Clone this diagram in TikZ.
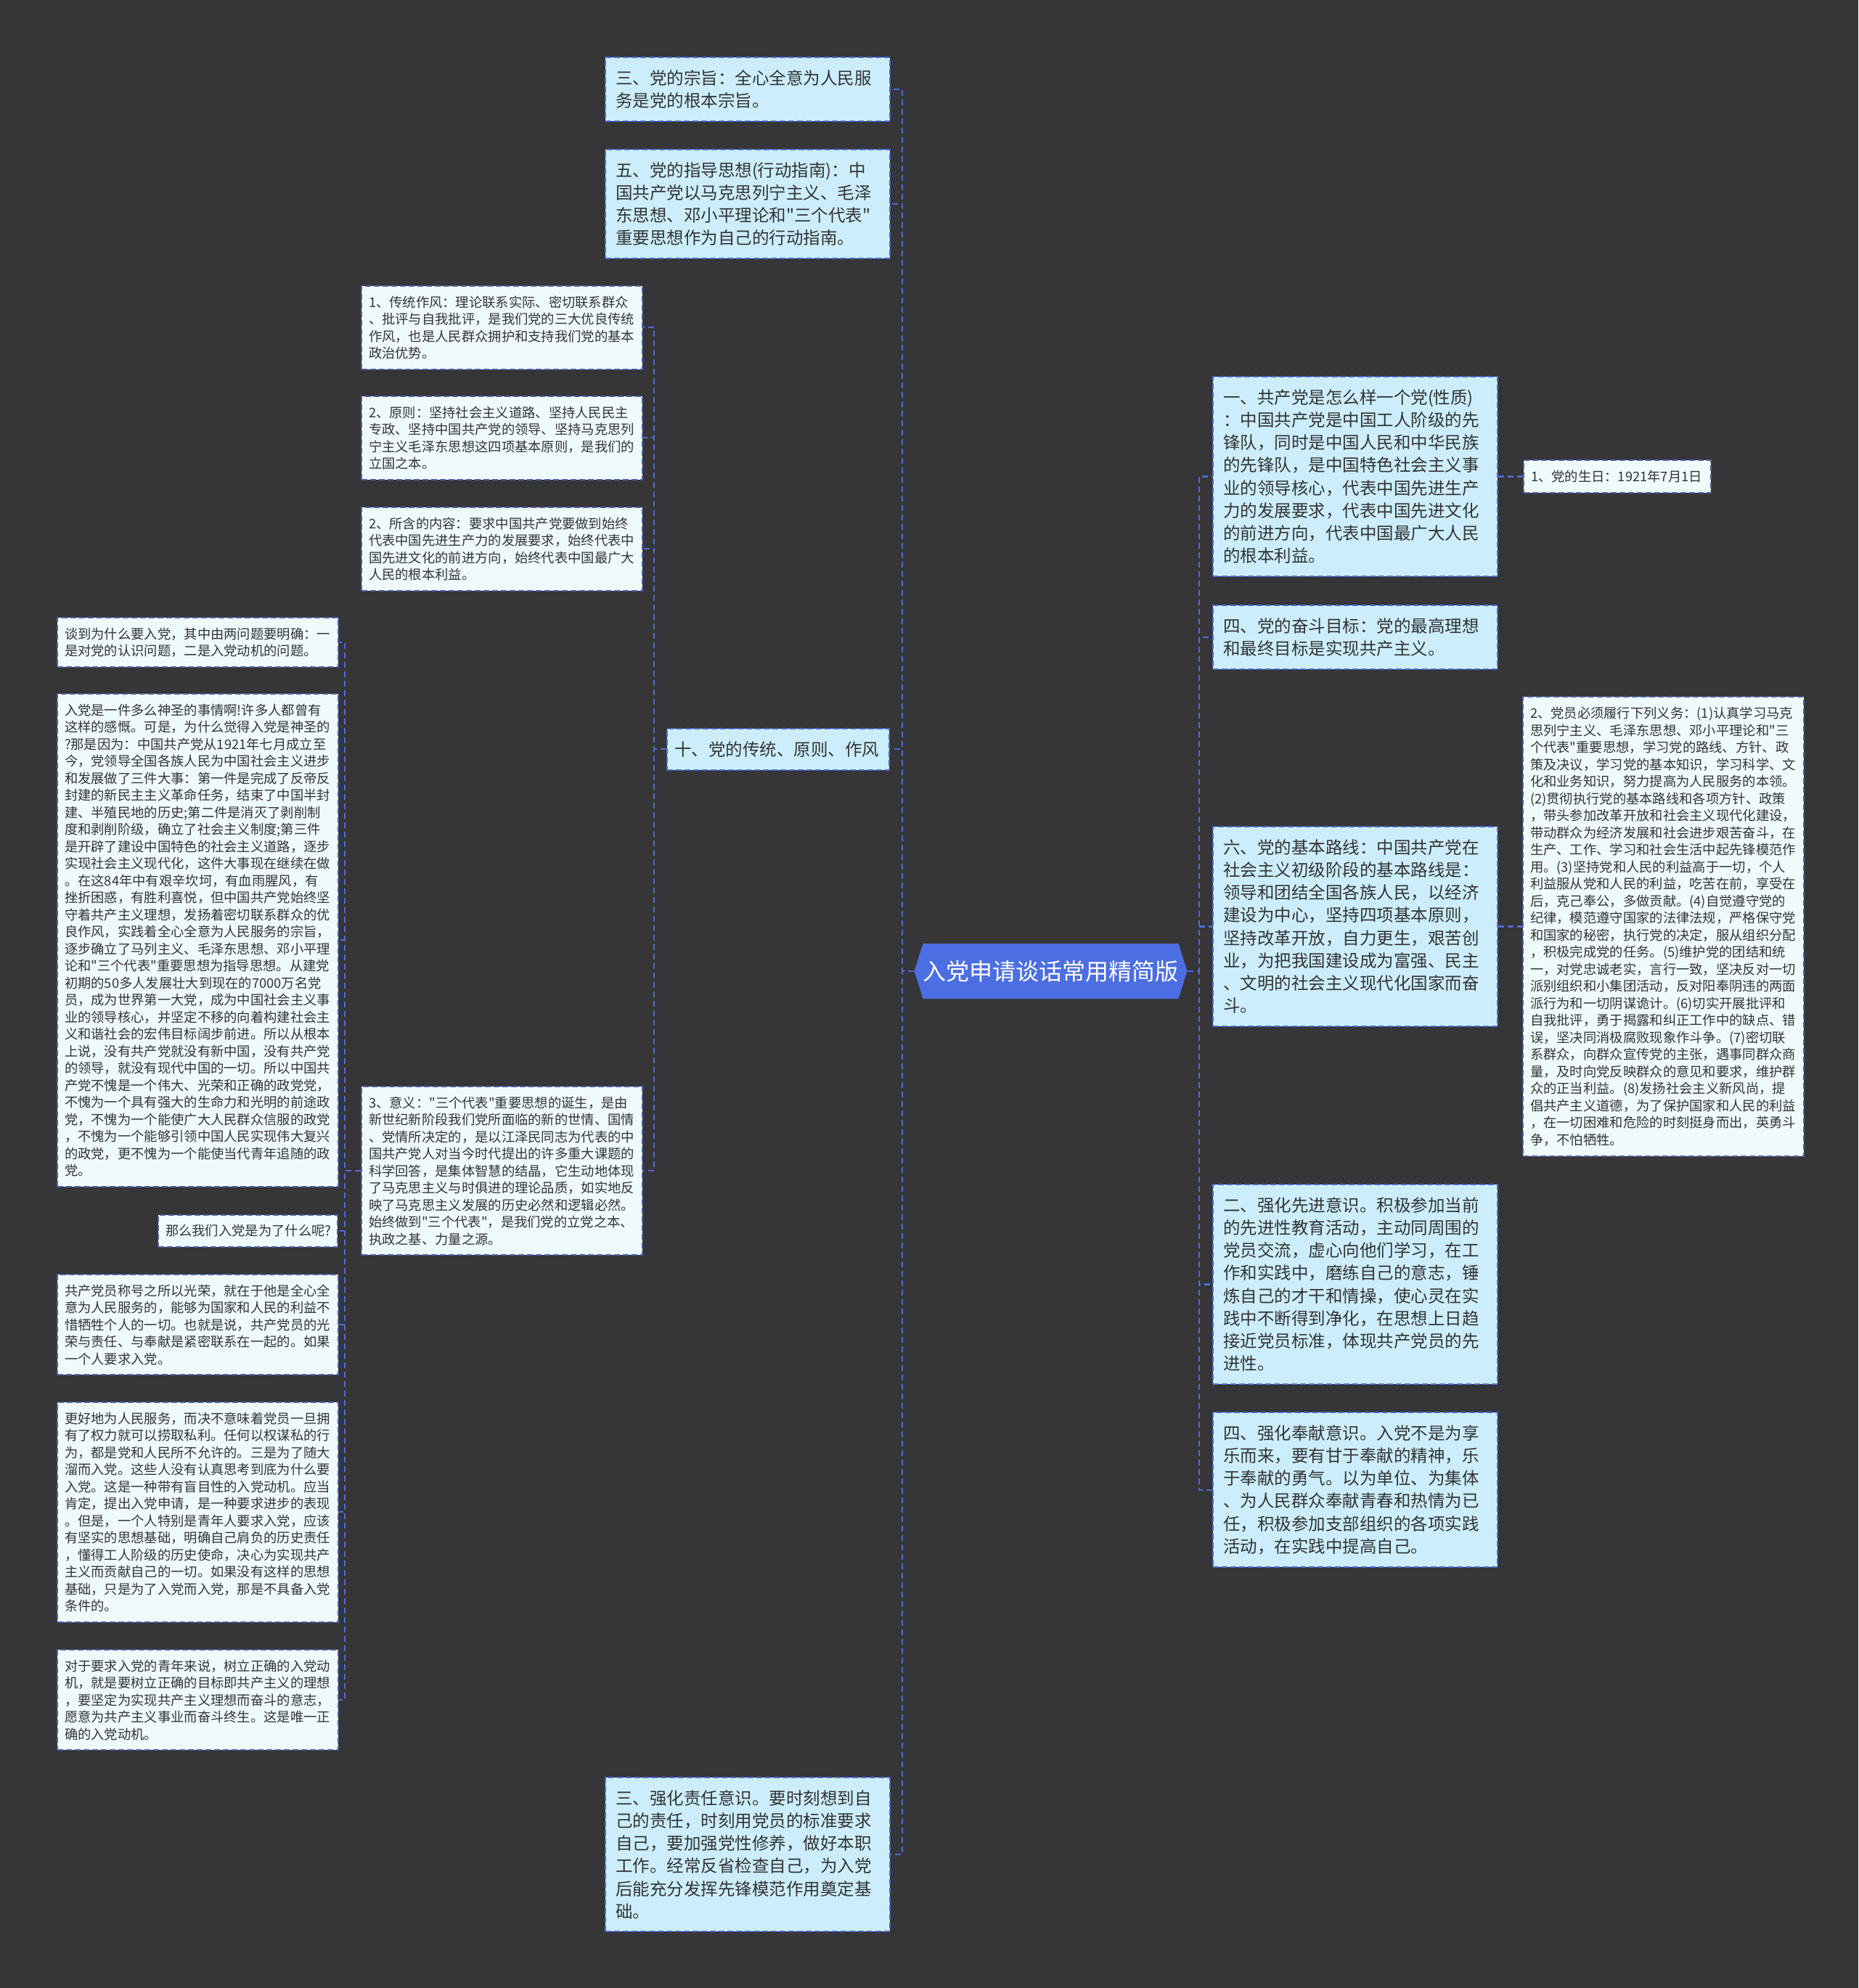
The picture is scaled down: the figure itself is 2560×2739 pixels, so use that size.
\documentclass[tikz,border=0pt]{standalone}
\usepackage{fontspec}
\setmainfont{Noto Sans CJK SC}[Ligatures=TeXOff]
\usetikzlibrary{shapes.symbols,positioning}
\definecolor{bgdark}{HTML}{363537}
\definecolor{linkblue}{HTML}{4C6CD9}
\definecolor{bigfill}{HTML}{CCEEFC}
\definecolor{leaffill}{HTML}{EFFAFD}
\definecolor{leafline}{HTML}{4F5FA8}
\definecolor{txt}{HTML}{333333}
\definecolor{rootblue}{HTML}{4B6EE3}

\begin{document}
\begin{tikzpicture}[
    x=0.5pt, y=-0.5pt,
    root/.style={signal, signal to=west and east, signal pointer angle=145, fill=rootblue, text=white,
        font=\fontsize{16}{18}\selectfont, minimum height=38pt, inner xsep=0pt},
    big/.style={rectangle, draw=linkblue, dash pattern=on 4pt off 2pt, line width=1pt, fill=bigfill, text=txt,
        font=\fontsize{11.75}{15.6}\selectfont, align=left, text width=182pt, inner xsep=7pt, inner ysep=8.7pt, anchor=north west},
    leaf/.style={rectangle, draw=leafline, dash pattern=on 4pt off 2pt, line width=1pt, fill=leaffill, text=txt,
        font=\fontsize{9.15}{11.75}\selectfont, align=left, text width=183.5pt, inner xsep=5pt, inner ysep=6.8pt, anchor=north west},
    link/.style={draw=linkblue, line width=1.1pt, dash pattern=on 4pt off 2.5pt}
]
\useasboundingbox (0,0) rectangle (2560,2739);
\fill[bgdark] (0,0) rectangle (2560,2739);

% Root
\node[root] (root) at (1447.5,1338) {入党申请谈话常用精简版};

% Left branches
\node[big] (c3) at (833,78) {三、党的宗旨：全心全意为人民服\\务是党的根本宗旨。};
\node[big] (c5) at (833,205) {五、党的指导思想(行动指南)：中\\国共产党以马克思列宁主义、毛泽\\东思想、邓小平理论和"三个代表"\\重要思想作为自己的行动指南。};
\node[big, text width=143pt, inner xsep=5pt] (c10) at (918,1003) {十、党的传统、原则、作风};
\node[big] (c3b) at (833,2448) {三、强化责任意识。要时刻想到自\\己的责任，时刻用党员的标准要求\\自己，要加强党性修养，做好本职\\工作。经常反省检查自己，为入党\\后能充分发挥先锋模范作用奠定基\\础。};

% Right branches
\node[big] (c1) at (1670,518) {一、共产党是怎么样一个党(性质)\\：中国共产党是中国工人阶级的先\\锋队，同时是中国人民和中华民族\\的先锋队，是中国特色社会主义事\\业的领导核心，代表中国先进生产\\力的发展要求，代表中国先进文化\\的前进方向，代表中国最广大人民\\的根本利益。};
\node[big] (c4) at (1670,833) {四、党的奋斗目标：党的最高理想\\和最终目标是实现共产主义。};
\node[big] (c6) at (1670,1138) {六、党的基本路线：中国共产党在\\社会主义初级阶段的基本路线是：\\领导和团结全国各族人民，以经济\\建设为中心，坚持四项基本原则，\\坚持改革开放，自力更生，艰苦创\\业，为把我国建设成为富强、民主\\、文明的社会主义现代化国家而奋\\斗。};
\node[big] (c2b) at (1670,1631) {二、强化先进意识。积极参加当前\\的先进性教育活动，主动同周围的\\党员交流，虚心向他们学习，在工\\作和实践中，磨练自己的意志，锤\\炼自己的才干和情操，使心灵在实\\践中不断得到净化，在思想上日趋\\接近党员标准，体现共产党员的先\\进性。};
\node[big] (c4b) at (1670,1945) {四、强化奉献意识。入党不是为享\\乐而来，要有甘于奉献的精神，乐\\于奉献的勇气。以为单位、为集体\\、为人民群众奉献青春和热情为已\\任，积极参加支部组织的各项实践\\活动，在实践中提高自己。};

% Leaves of c1 and c6
\node[leaf, text width=119pt, right=17pt of c1] (b1) {1、党的生日：1921年7月1日};
\node[leaf, right=16.5pt of c6] (d2) {2、党员必须履行下列义务：(1)认真学习马克\\思列宁主义、毛泽东思想、邓小平理论和"三\\个代表"重要思想，学习党的路线、方针、政\\策及决议，学习党的基本知识，学习科学、文\\化和业务知识，努力提高为人民服务的本领。\\(2)贯彻执行党的基本路线和各项方针、政策\\，带头参加改革开放和社会主义现代化建设，\\带动群众为经济发展和社会进步艰苦奋斗，在\\生产、工作、学习和社会生活中起先锋模范作\\用。(3)坚持党和人民的利益高于一切，个人\\利益服从党和人民的利益，吃苦在前，享受在\\后，克己奉公，多做贡献。(4)自觉遵守党的\\纪律，模范遵守国家的法律法规，严格保守党\\和国家的秘密，执行党的决定，服从组织分配\\，积极完成党的任务。(5)维护党的团结和统\\一，对党忠诚老实，言行一致，坚决反对一切\\派别组织和小集团活动，反对阳奉阴违的两面\\派行为和一切阴谋诡计。(6)切实开展批评和\\自我批评，勇于揭露和纠正工作中的缺点、错\\误，坚决同消极腐败现象作斗争。(7)密切联\\系群众，向群众宣传党的主张，遇事同群众商\\量，及时向党反映群众的意见和要求，维护群\\众的正当利益。(8)发扬社会主义新风尚，提\\倡共产主义道德，为了保护国家和人民的利益\\，在一切困难和危险的时刻挺身而出，英勇斗\\争，不怕牺牲。};

% Leaves of c10
\node[leaf] (t1) at (497,393) {1、传统作风：理论联系实际、密切联系群众\\、批评与自我批评，是我们党的三大优良传统\\作风，也是人民群众拥护和支持我们党的基本\\政治优势。};
\node[leaf] (t2) at (497,545) {2、原则：坚持社会主义道路、坚持人民民主\\专政、坚持中国共产党的领导、坚持马克思列\\宁主义毛泽东思想这四项基本原则，是我们的\\立国之本。};
\node[leaf] (t3) at (497,698) {2、所含的内容：要求中国共产党要做到始终\\代表中国先进生产力的发展要求，始终代表中\\国先进文化的前进方向，始终代表中国最广大\\人民的根本利益。};
\node[leaf] (t4) at (497,1496) {3、意义："三个代表"重要思想的诞生，是由\\新世纪新阶段我们党所面临的新的世情、国情\\、党情所决定的，是以江泽民同志为代表的中\\国共产党人对当今时代提出的许多重大课题的\\科学回答，是集体智慧的结晶，它生动地体现\\了马克思主义与时俱进的理论品质，如实地反\\映了马克思主义发展的历史必然和逻辑必然。\\始终做到"三个代表"，是我们党的立党之本、\\执政之基、力量之源。};

% Leaves of t4
\node[leaf] (w1) at (78,850) {谈到为什么要入党，其中由两问题要明确：一\\是对党的认识问题，二是入党动机的问题。};
\node[leaf] (w2) at (78,955) {入党是一件多么神圣的事情啊!许多人都曾有\\这样的感慨。可是，为什么觉得入党是神圣的\\?那是因为：中国共产党从1921年七月成立至\\今，党领导全国各族人民为中国社会主义进步\\和发展做了三件大事：第一件是完成了反帝反\\封建的新民主主义革命任务，结束了中国半封\\建、半殖民地的历史;第二件是消灭了剥削制\\度和剥削阶级，确立了社会主义制度;第三件\\是开辟了建设中国特色的社会主义道路，逐步\\实现社会主义现代化，这件大事现在继续在做\\。在这84年中有艰辛坎坷，有血雨腥风，有\\挫折困惑，有胜利喜悦，但中国共产党始终坚\\守着共产主义理想，发扬着密切联系群众的优\\良作风，实践着全心全意为人民服务的宗旨，\\逐步确立了马列主义、毛泽东思想、邓小平理\\论和"三个代表"重要思想为指导思想。从建党\\初期的50多人发展壮大到现在的7000万名党\\员，成为世界第一大党，成为中国社会主义事\\业的领导核心，并坚定不移的向着构建社会主\\义和谐社会的宏伟目标阔步前进。所以从根本\\上说，没有共产党就没有新中国，没有共产党\\的领导，就没有现代中国的一切。所以中国共\\产党不愧是一个伟大、光荣和正确的政党党，\\不愧为一个具有强大的生命力和光明的前途政\\党，不愧为一个能使广大人民群众信服的政党\\，不愧为一个能够引领中国人民实现伟大复兴\\的政党，更不愧为一个能使当代青年追随的政\\党。};
\node[leaf, text width=113.5pt] (w3) at (217,1673) {那么我们入党是为了什么呢?};
\node[leaf] (w4) at (78,1755) {共产党员称号之所以光荣，就在于他是全心全\\意为人民服务的，能够为国家和人民的利益不\\惜牺牲个人的一切。也就是说，共产党员的光\\荣与责任、与奉献是紧密联系在一起的。如果\\一个人要求入党。};
\node[leaf] (w5) at (78,1931) {更好地为人民服务，而决不意味着党员一旦拥\\有了权力就可以捞取私利。任何以权谋私的行\\为，都是党和人民所不允许的。三是为了随大\\溜而入党。这些人没有认真思考到底为什么要\\入党。这是一种带有盲目性的入党动机。应当\\肯定，提出入党申请，是一种要求进步的表现\\。但是，一个人特别是青年人要求入党，应该\\有坚实的思想基础，明确自己肩负的历史责任\\，懂得工人阶级的历史使命，决心为实现共产\\主义而贡献自己的一切。如果没有这样的思想\\基础，只是为了入党而入党，那是不具备入党\\条件的。};
\node[leaf] (w6) at (78,2272) {对于要求入党的青年来说，树立正确的入党动\\机，就是要树立正确的目标即共产主义的理想\\，要坚定为实现共产主义理想而奋斗的意志，\\愿意为共产主义事业而奋斗终生。这是唯一正\\确的入党动机。};

% Connectors
\foreach \n in {c3,c5,c10,c3b}
    \draw[link] (root.west) -- ++(-16,0) |- (\n.east);
\foreach \n in {c1,c4,c6,c2b,c4b}
    \draw[link] (root.east) -- ++(16,0) |- (\n.west);
\draw[link] (c1.east) -- (b1.west);
\draw[link] (c6.east) -- (d2.west);
\foreach \n in {t1,t2,t3,t4}
    \draw[link] (c10.west) -- ++(-17,0) |- (\n.east);
\foreach \n in {w1,w2,w3,w4,w5,w6}
    \draw[link] (t4.west) -- ++(-22,0) |- (\n.east);

\end{tikzpicture}
\end{document}
